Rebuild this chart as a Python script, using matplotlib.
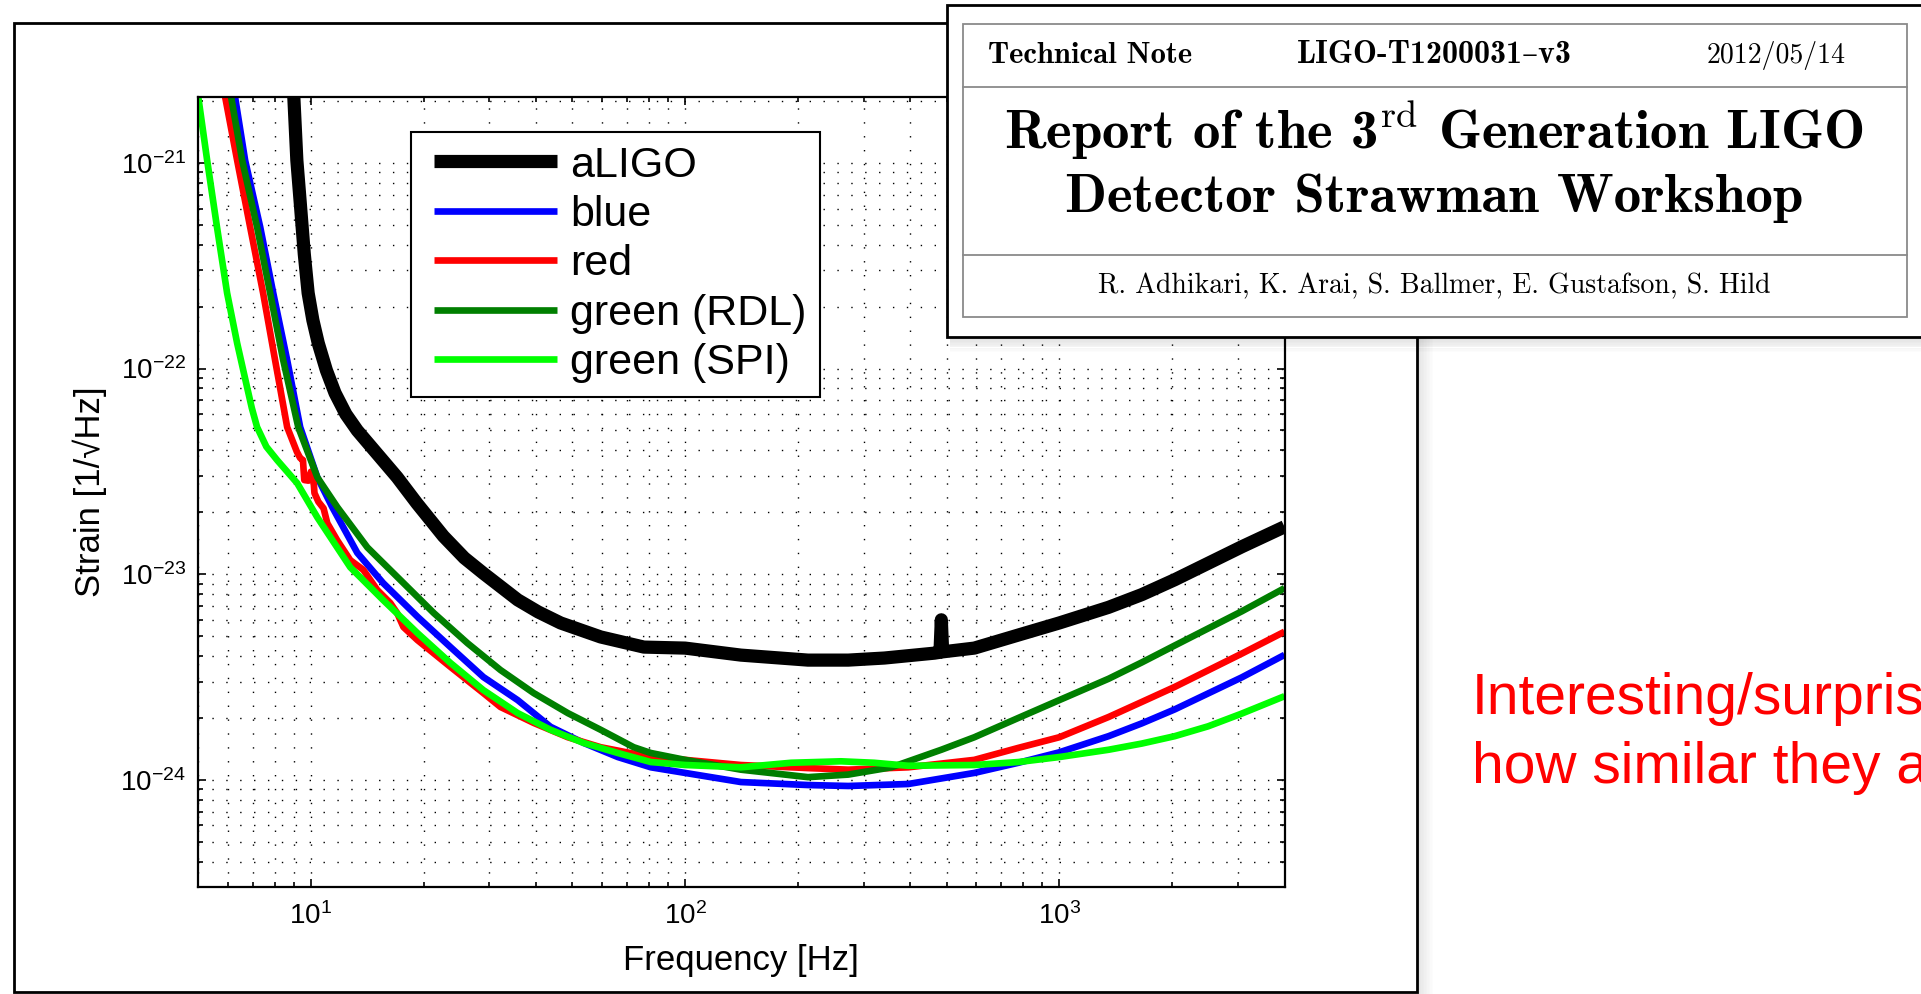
import matplotlib
matplotlib.use("Agg")
import matplotlib.pyplot as plt
from matplotlib.patches import Rectangle
from matplotlib.lines import Line2D
from matplotlib.legend_handler import HandlerLine2D

plt.rcParams['font.family'] = ['Liberation Sans', 'DejaVu Sans']

# ---------------- datos ----------------
aligo_f = [9.0, 9.17, 9.36, 9.6, 9.83, 10.12, 10.46, 11.0, 11.6, 12.4, 13.3, 17.0, 19.2,
           22.6, 25.7, 28.9, 35.7, 40.5, 46.5, 59.5, 77.6, 100, 141, 213, 273, 341, 464,
           480, 484, 488, 593, 778, 1000, 1355, 1661, 2036, 3077, 4000]
aligo_h = [2.1e-21, 1.03e-21, 6.46e-22, 3.6e-22, 2.33e-22, 1.72e-22, 1.33e-22, 9.8e-23,
           7.6e-23, 6.0e-23, 5.0e-23, 2.96e-23, 2.21e-23, 1.53e-23, 1.2e-23, 1.01e-23,
           7.5e-24, 6.55e-24, 5.79e-24, 4.95e-24, 4.42e-24, 4.37e-24, 4.04e-24, 3.82e-24,
           3.82e-24, 3.91e-24, 4.13e-24, 4.17e-24, 6.0e-24, 4.19e-24, 4.37e-24, 5.06e-24,
           5.79e-24, 6.9e-24, 7.95e-24, 9.4e-24, 1.36e-23, 1.7e-23]

blue_f = [6.27, 6.67, 7.32, 7.93, 8.64, 9.36, 10.4, 11.4, 13.3, 15.6, 19.3, 23.6, 28.9,
          35.7, 43.7, 53.6, 66.1, 81.0, 100, 141, 213, 273, 395, 593, 778, 1000, 1355,
          1661, 2036, 3077, 4000]
blue_h = [2.09e-21, 1.03e-21, 4.87e-22, 2.33e-22, 1.10e-22, 5.19e-23, 2.96e-23, 2.12e-23,
          1.27e-23, 9.05e-24, 6.19e-24, 4.42e-24, 3.16e-24, 2.44e-24, 1.81e-24, 1.51e-24,
          1.29e-24, 1.15e-24, 1.08e-24, 9.75e-25, 9.43e-25, 9.33e-25, 9.54e-25, 1.08e-24,
          1.21e-24, 1.36e-24, 1.63e-24, 1.88e-24, 2.2e-24, 3.15e-24, 4.05e-24]

red_f = [5.90, 6.35, 6.88, 7.45, 8.02, 8.64, 9.17, 9.36, 9.52, 9.60, 9.85, 10.0, 10.16,
         10.22, 10.47, 10.81, 11.06, 11.76, 12.74, 13.8, 15.05, 16.3, 17.0, 17.67, 19.26,
         23.6, 28.9, 32.1, 39.4, 48.6, 59.5, 81.0, 100, 141, 213, 273, 395, 593, 778, 1000,
         1355, 1661, 2036, 3077, 4000]
red_h = [2.09e-21, 1.03e-21, 4.87e-22, 2.33e-22, 1.10e-22, 5.19e-23, 3.94e-23, 3.67e-23,
         3.59e-23, 2.87e-23, 2.85e-23, 3.15e-23, 2.87e-23, 2.48e-23, 2.25e-23, 2.09e-23,
         1.77e-23, 1.46e-23, 1.17e-23, 1.05e-23, 8.37e-24, 7.24e-24, 6.47e-24, 5.53e-24,
         4.78e-24, 3.54e-24, 2.64e-24, 2.26e-24, 1.89e-24, 1.61e-24, 1.44e-24, 1.29e-24,
         1.25e-24, 1.18e-24, 1.14e-24, 1.12e-24, 1.15e-24, 1.25e-24, 1.43e-24, 1.61e-24,
         2.02e-24, 2.39e-24, 2.83e-24, 4.11e-24, 5.25e-24]

rdl_f = [6.12, 6.55, 7.18, 7.78, 8.43, 9.25, 10.4, 11.76, 14.15, 17.35, 21.3, 26.2, 32.1,
         39.4, 48.6, 59.5, 72.9, 81.0, 100, 141, 213, 273, 356, 484, 593, 778, 1000, 1355,
         1661, 2036, 3077, 4000]
rdl_h = [2.09e-21, 1.03e-21, 4.87e-22, 2.33e-22, 1.10e-22, 5.19e-23, 2.96e-23, 2.12e-23,
         1.35e-23, 9.36e-24, 6.47e-24, 4.62e-24, 3.42e-24, 2.64e-24, 2.11e-24, 1.75e-24,
         1.44e-24, 1.35e-24, 1.25e-24, 1.12e-24, 1.03e-24, 1.06e-24, 1.15e-24, 1.40e-24,
         1.61e-24, 2.00e-24, 2.44e-24, 3.1e-24, 3.72e-24, 4.5e-24, 6.6e-24, 8.55e-24]

spi_f = [5.0, 5.28, 5.61, 5.97, 6.35, 6.75, 6.95, 7.18, 7.6, 8.12, 9.19, 10.4, 12.74, 15.6,
         19.26, 23.6, 28.9, 35.7, 43.7, 53.6, 66.1, 81.0, 100, 141, 192, 261, 320, 395, 593,
         778, 1000, 1355, 1661, 2036, 2500, 3077, 4000]
spi_h = [2.09e-21, 1.03e-21, 4.87e-22, 2.33e-22, 1.33e-22, 8.12e-23, 6.43e-23, 5.19e-23,
         4.17e-23, 3.59e-23, 2.77e-23, 1.89e-23, 1.08e-23, 7.48e-24, 5.17e-24, 3.70e-24,
         2.73e-24, 2.11e-24, 1.75e-24, 1.51e-24, 1.35e-24, 1.22e-24, 1.18e-24, 1.15e-24,
         1.21e-24, 1.23e-24, 1.21e-24, 1.17e-24, 1.18e-24, 1.22e-24, 1.29e-24, 1.40e-24,
         1.5e-24, 1.63e-24, 1.82e-24, 2.1e-24, 2.55e-24]

labels = ['aLIGO', 'blue', 'red', 'green (RDL)', 'green (SPI)']
colors = ['black', '#0000ff', '#ff0000', '#007f00', '#00ff00']
x_ticks = [10, 100, 1000]
y_ticks = [1e-24, 1e-23, 1e-22, 1e-21]

header = ['Technical Note', 'LIGO-T1200031\u2013v3', '2012/05/14']
title_lines = [r'Report of the 3$^{\rm rd}$ Generation LIGO', 'Detector Strawman Workshop']
authors = 'R. Adhikari, K. Arai, S. Ballmer, E. Gustafson, S. Hild'
note = ['Interesting/surprising', 'how similar they are']

# ---------------- utilidades (pixeles -> fraccion de figura) ----------------
W, H = 1921, 994


def fx(x):
    return x / W


def fy(y):
    return 1 - y / H


def add_box(fig, x0, y0, x1, y1, **kw):
    r = Rectangle((fx(x0), fy(y1)), (x1 - x0) / W, (y1 - y0) / H,
                  transform=fig.transFigure, **kw)
    fig.add_artist(r)
    return r


def add_hline(fig, x0, x1, y, **kw):
    fig.add_artist(Line2D([fx(x0), fx(x1)], [fy(y), fy(y)], transform=fig.transFigure, **kw))


fig = plt.figure(figsize=(W / 100, H / 100), dpi=100)
fig.patch.set_facecolor('white')

# ---------------- grafico ----------------
ax = fig.add_axes([198.3 / W, 1 - 887.3 / H, 1086.2 / W, 790.6 / H])
series = [(aligo_f, aligo_h), (blue_f, blue_h), (red_f, red_h), (rdl_f, rdl_h), (spi_f, spi_h)]
widths = [9.5, 4.8, 4.8, 4.8, 4.8]
handles = []
for (f, h), c, lw, lab in zip(series, colors, widths, labels):
    ln, = ax.loglog(f, h, color=c, lw=lw, label=lab, solid_joinstyle='round',
                    solid_capstyle='butt')
    handles.append(ln)

ax.set_xlim(5, 4000)
ax.set_ylim(3e-25, 2.1e-21)
ax.set_xticks(x_ticks)
ax.set_yticks(y_ticks)
ax.grid(True, which='both', color='k', linestyle=(0, (1, 9)), linewidth=1.0)
ax.tick_params(which='both', direction='in', top=True, right=True, width=1.2)
ax.tick_params(which='major', length=6, labelsize=20, pad=9)
ax.tick_params(which='minor', length=3.5)
ax.tick_params(axis='x', which='major', pad=11)
for s in ax.spines.values():
    s.set_linewidth(1.6)

ax.set_xlabel('Frequency [Hz]', fontsize=25)
ax.xaxis.set_label_coords(0.5, -0.072)
ax.set_ylabel('Strain [1/\u221aHz]', fontsize=25)
ax.yaxis.set_label_coords(-0.084, 0.5)

leg = ax.legend(handles, labels, loc='upper left', bbox_to_anchor=(0.1958, 0.9557),
                borderaxespad=0, fancybox=False, edgecolor='k', framealpha=1,
                fontsize=31, handlelength=3.07, handletextpad=0.31, labelspacing=0.22,
                borderpad=0.32, handler_map={Line2D: HandlerLine2D(xpad=0.225)})
leg.get_frame().set_linewidth(1.5)

# ---------------- marco de la diapositiva ----------------
for i in range(10):
    add_box(fig, 1418 + i * 1.5, 30, 1419.5 + i * 1.5, 994, facecolor='k',
            edgecolor='none', alpha=0.10 * (1 - i / 10), zorder=0.5)
add_box(fig, 14, 23, 1417, 992, facecolor='none', edgecolor='k', lw=2.0, zorder=1)

# ---------------- recuadro de la nota tecnica ----------------
for i in range(10):
    add_box(fig, 950, 337 + i * 1.5, 1921, 338.5 + i * 1.5, facecolor='k',
            edgecolor='none', alpha=0.12 * (1 - i / 10), zorder=1.5)
add_box(fig, 947, 5, 1935, 337, facecolor='white', edgecolor='k', lw=2.0, zorder=2)
add_box(fig, 962.7, 24.3, 1906.7, 316.7, facecolor='none', edgecolor='#8a8a8a', lw=1.3,
        zorder=2.5)
add_hline(fig, 962.7, 1906.7, 87.3, color='#8a8a8a', lw=1.3, zorder=2.5)
add_hline(fig, 962.7, 1906.7, 255, color='#8a8a8a', lw=1.3, zorder=2.5)

bold = ['cmb10', 'DejaVu Serif']
roman = ['cmr10', 'DejaVu Serif']
fig.text(fx(988), fy(62.7), header[0], family=bold, fontsize=22, va='baseline', zorder=3)
fig.text(fx(1296.7), fy(62.7), header[1], family=bold, fontsize=23, va='baseline', zorder=3)
fig.text(fx(1846), fy(62.7), header[2], family=roman, fontsize=20, va='baseline',
         ha='right', zorder=3)
fig.text(fx(1434), fy(149), title_lines[0], family=bold, fontsize=39.5, va='baseline',
         ha='center', math_fontfamily='cm', zorder=3)
fig.text(fx(1434), fy(212), title_lines[1], family=bold, fontsize=39.5, va='baseline',
         ha='center', zorder=3)
fig.text(fx(1434), fy(293), authors, family=roman, fontsize=20, va='baseline',
         ha='center', zorder=3)

# ---------------- comentario en rojo ----------------
fig.text(fx(1472), fy(714), note[0], color='#ff0000', fontsize=41, va='baseline')
fig.text(fx(1472), fy(783), note[1], color='#ff0000', fontsize=41, va='baseline')

fig.savefig('out.png', dpi=100, facecolor='white')
